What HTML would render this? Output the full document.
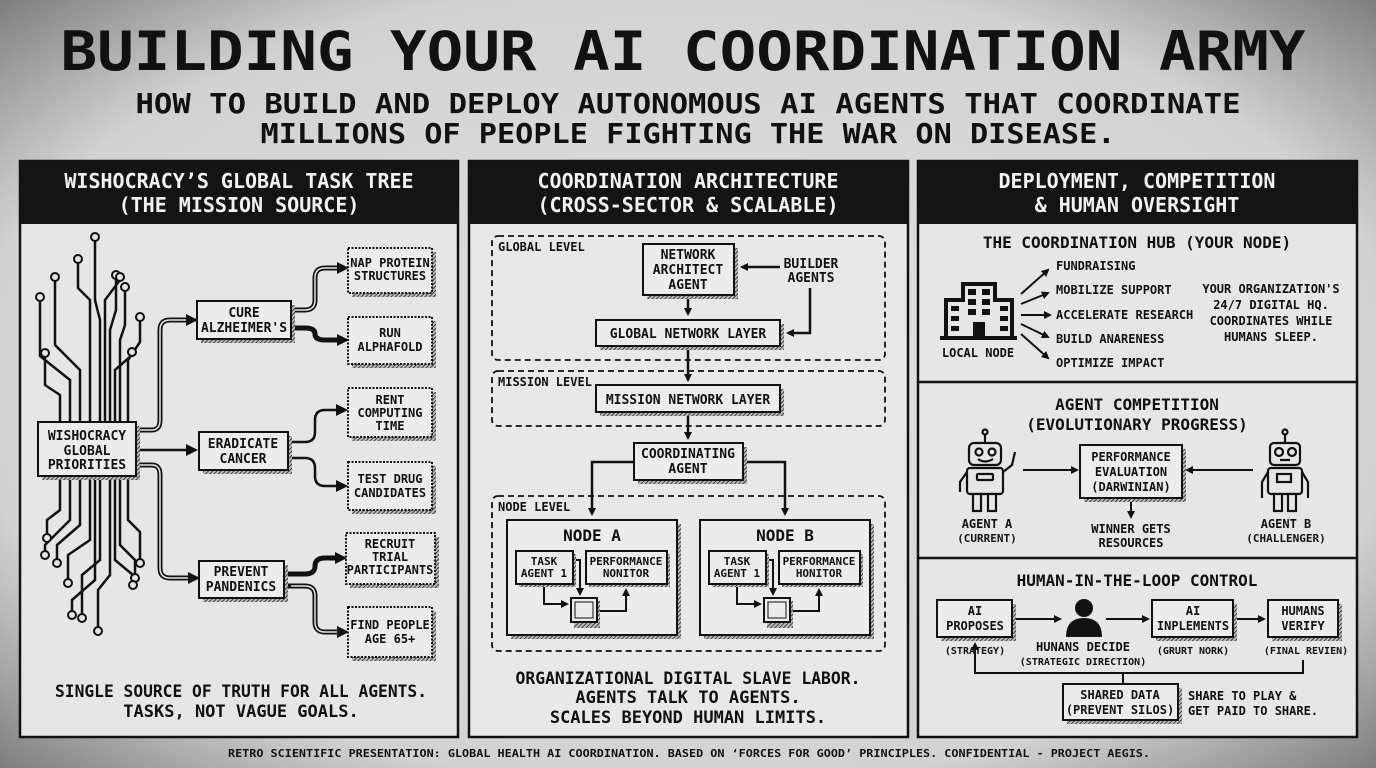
<!DOCTYPE html>
<html><head><meta charset="utf-8"><style>
html,body{margin:0;padding:0;background:#d0d0d0;}
svg{display:block;}
text{font-family:"DejaVu Sans Mono","Liberation Mono",monospace;font-weight:bold;fill:#111;}
.w{fill:#f2f2f2;}
.c{text-anchor:middle;}
</style></head><body>
<svg width="1376" height="768" viewBox="0 0 1376 768" xmlns="http://www.w3.org/2000/svg">
<defs>
<radialGradient id="bg" cx="50%" cy="50%" r="75%">
<stop offset="0" stop-color="#e2e2e2"/><stop offset="0.7" stop-color="#d2d2d2"/><stop offset="1" stop-color="#6a6a6a"/>
</radialGradient>
<pattern id="hat" width="3" height="3" patternUnits="userSpaceOnUse" patternTransform="rotate(45)">
<rect width="3" height="3" fill="#bbb"/><line x1="0" y1="0" x2="0" y2="3" stroke="#222" stroke-width="1.6"/>
</pattern>
<marker id="ar" markerWidth="8" markerHeight="8" refX="6" refY="4" orient="auto" markerUnits="userSpaceOnUse">
<path d="M0,0 L8,4 L0,8 Z" fill="#111"/>
</marker>
<marker id="ar2" markerWidth="12" markerHeight="12" refX="10" refY="6" orient="auto" markerUnits="userSpaceOnUse">
<path d="M0,0 L12,6 L0,12 Z" fill="#111"/>
</marker>
</defs>
<rect width="1376" height="768" fill="url(#bg)"/>

<!-- Title -->
<text x="683" y="70" class="c" font-size="54" textLength="1245" lengthAdjust="spacingAndGlyphs">BUILDING YOUR AI COORDINATION ARMY</text>
<text x="688" y="113" class="c" font-size="28" textLength="1105" lengthAdjust="spacingAndGlyphs">HOW TO BUILD AND DEPLOY AUTONOMOUS AI AGENTS THAT COORDINATE</text>
<text x="688" y="143" class="c" font-size="28" textLength="855" lengthAdjust="spacingAndGlyphs">MILLIONS OF PEOPLE FIGHTING THE WAR ON DISEASE.</text>

<!-- Panels -->
<g stroke="#111" stroke-width="2.5">
<rect x="20" y="161" width="438" height="576" fill="#e6e6e6"/>
<rect x="469" y="161" width="439" height="576" fill="#e8e8e8"/>
<rect x="918" y="161" width="439" height="576" fill="#e6e6e6"/>
</g>
<rect x="20" y="161" width="438" height="63" fill="#141414"/>
<rect x="469" y="161" width="439" height="63" fill="#141414"/>
<rect x="918" y="161" width="439" height="63" fill="#141414"/>
<g font-size="20" class="c">
<text class="w c" x="239" y="188">WISHOCRACY’S GLOBAL TASK TREE</text>
<text class="w c" x="239" y="212">(THE MISSION SOURCE)</text>
<text class="w c" x="688" y="188">COORDINATION ARCHITECTURE</text>
<text class="w c" x="688" y="212">(CROSS-SECTOR &amp; SCALABLE)</text>
<text class="w c" x="1137" y="188">DEPLOYMENT, COMPETITION</text>
<text class="w c" x="1137" y="212">&amp; HUMAN OVERSIGHT</text>
</g>

<!-- LEFT PANEL: circuit tree -->
<g stroke="#111" stroke-width="2.5" fill="none">
<path d="M70,422 V380 L40,356 V300"/><path d="M80,422 V370 L55,345 V280"/>
<path d="M90,422 V300 L78,288 V262"/><path d="M100,422 V320 L95,300 V240"/>
<path d="M110,422 V330 L116,310 V278"/><path d="M120,422 V340 L125,325 V290"/>
<path d="M128,422 V360 L140,342 V320"/><path d="M60,422 V395 L45,385 V356"/>
<path d="M105,422 V300 L120,280"/><path d="M115,422 V370 L132,355"/>
<path d="M70,476 V520 L45,545 V552"/><path d="M80,476 V525 L57,545 V560"/>
<path d="M90,476 V540 L68,555 V580"/><path d="M100,476 V560 L82,575 V615"/>
<path d="M110,476 V575 L98,590 V628"/><path d="M120,476 V545 L135,560 V575"/>
<path d="M128,476 V520 L140,532 V560"/><path d="M60,476 V510 L47,520 V535"/>
<path d="M115,476 V560 L133,575 V582"/><path d="M95,476 V580 L72,600 V612"/>
</g>
<g fill="#e6e6e6" stroke="#111" stroke-width="2">
<circle cx="40" cy="297" r="4"/><circle cx="55" cy="277" r="4"/><circle cx="78" cy="259" r="4"/><circle cx="95" cy="237" r="4"/>
<circle cx="116" cy="275" r="4"/><circle cx="125" cy="287" r="4"/><circle cx="140" cy="317" r="4"/><circle cx="45" cy="353" r="4"/>
<circle cx="120" cy="277" r="4"/><circle cx="132" cy="352" r="4"/>
<circle cx="45" cy="555" r="4"/><circle cx="57" cy="563" r="4"/><circle cx="68" cy="583" r="4"/><circle cx="82" cy="618" r="4"/>
<circle cx="98" cy="631" r="4"/><circle cx="135" cy="578" r="4"/><circle cx="140" cy="563" r="4"/><circle cx="47" cy="538" r="4"/>
<circle cx="133" cy="585" r="4"/><circle cx="72" cy="615" r="4"/>
</g>

<!-- Left connectors -->
<g stroke="#111" stroke-width="5" fill="none">
<path d="M136,430 H152 Q160,430 160,420 V330 Q160,320 170,320 H188"/>
<path d="M136,465 H152 Q160,465 160,475 V568 Q160,578 170,578 H190"/>
<path d="M291,310 H305 Q315,310 315,300 V278 Q315,268 325,268 H340"/>
<path d="M291,328 H305 Q315,328 315,334 Q315,340 325,340 H340"/>
<path d="M284,574 H305 Q315,574 315,566 Q315,558 325,558 H338"/>
<path d="M284,586 H305 Q315,586 315,596 V622 Q315,632 325,632 H340"/>
</g>
<g stroke="#e6e6e6" stroke-width="1.5" fill="none">
<path d="M136,430 H152 Q160,430 160,420 V330 Q160,320 170,320 H188"/>
<path d="M136,465 H152 Q160,465 160,475 V568 Q160,578 170,578 H190"/>
<path d="M291,310 H305 Q315,310 315,300 V278 Q315,268 325,268 H340"/>
<path d="M291,586 H305 Q315,586 315,596 V622 Q315,632 325,632 H340"/>
</g>
<g stroke="#111" stroke-width="2.5" fill="none" marker-end="url(#ar2)">
<path d="M186,320 H196"/><path d="M188,578 H198"/>
<path d="M338,268 H347"/><path d="M338,340 H347"/><path d="M336,558 H345"/><path d="M338,632 H347"/>
<path d="M136,450 H196"/>
<path d="M288,442 H305 Q315,442 315,432 V420 Q315,410 325,410 H346"/>
<path d="M288,458 H305 Q315,458 315,468 V476 Q315,486 325,486 H346"/>
</g>

<!-- left boxes solid -->
<g stroke="#111" stroke-width="2">
<rect x="42" y="426" width="98" height="54" fill="url(#hat)" stroke="none"/>
<rect x="38" y="422" width="98" height="54" fill="#ececec"/>
<rect x="201" y="305" width="94" height="38" fill="url(#hat)" stroke="none"/>
<rect x="197" y="301" width="94" height="38" fill="#ececec"/>
<rect x="203" y="436" width="89" height="38" fill="url(#hat)" stroke="none"/>
<rect x="199" y="432" width="89" height="38" fill="#ececec"/>
<rect x="203" y="565" width="85" height="37" fill="url(#hat)" stroke="none"/>
<rect x="199" y="561" width="85" height="37" fill="#ececec"/>
</g>
<g font-size="13" class="c">
<text x="87" y="440" class="c">WISHOCRACY</text><text x="87" y="455" class="c">GLOBAL</text><text x="87" y="469" class="c">PRIORITIES</text>
<text x="244" y="317" class="c">CURE</text><text x="244" y="332" class="c">ALZHEIMER'S</text>
<text x="243" y="448" class="c">ERADICATE</text><text x="243" y="463" class="c">CANCER</text>
<text x="241" y="576" class="c">PREVENT</text><text x="241" y="591" class="c">PANDENICS</text>
</g>
<!-- left dashed task boxes -->
<g stroke="#111" stroke-width="2" stroke-dasharray="2 1.5">
<rect x="352" y="252" width="84" height="45" fill="url(#hat)" stroke="none"/>
<rect x="348" y="248" width="84" height="45" fill="#ececec"/>
<rect x="352" y="321" width="84" height="47" fill="url(#hat)" stroke="none"/>
<rect x="348" y="317" width="84" height="47" fill="#ececec"/>
<rect x="352" y="392" width="84" height="49" fill="url(#hat)" stroke="none"/>
<rect x="348" y="388" width="84" height="49" fill="#ececec"/>
<rect x="352" y="466" width="84" height="48" fill="url(#hat)" stroke="none"/>
<rect x="348" y="462" width="84" height="48" fill="#ececec"/>
<rect x="350" y="537" width="89" height="51" fill="url(#hat)" stroke="none"/>
<rect x="346" y="533" width="89" height="51" fill="#ececec"/>
<rect x="352" y="611" width="84" height="50" fill="url(#hat)" stroke="none"/>
<rect x="348" y="607" width="84" height="50" fill="#ececec"/>
</g>
<g font-size="12">
<text x="390" y="267" class="c">NAP PROTEIN</text><text x="390" y="280" class="c">STRUCTURES</text>
<text x="390" y="337" class="c">RUN</text><text x="390" y="351" class="c">ALPHAFOLD</text>
<text x="390" y="404" class="c">RENT</text><text x="390" y="417" class="c">COMPUTING</text><text x="390" y="430" class="c">TIME</text>
<text x="390" y="483" class="c">TEST DRUG</text><text x="390" y="497" class="c">CANDIDATES</text>
<text x="390" y="548" class="c">RECRUIT</text><text x="390" y="561" class="c">TRIAL</text><text x="390" y="574" class="c">PARTICIPANTS</text>
<text x="390" y="629" class="c">FIND PEOPLE</text><text x="390" y="643" class="c">AGE 65+</text>
</g>
<g font-size="17">
<text x="241" y="697" class="c" textLength="372" lengthAdjust="spacingAndGlyphs">SINGLE SOURCE OF TRUTH FOR ALL AGENTS.</text>
<text x="241" y="717" class="c">TASKS, NOT VAGUE GOALS.</text>
</g>

<!-- MIDDLE PANEL -->
<g stroke="#111" stroke-width="1.8" fill="none" stroke-dasharray="6 4">
<rect x="492" y="236" width="393" height="124" rx="6"/>
<rect x="492" y="371" width="393" height="55" rx="6"/>
<rect x="492" y="496" width="393" height="155" rx="6"/>
</g>
<g font-size="12">
<text x="498" y="251">GLOBAL LEVEL</text>
<text x="498" y="386">MISSION LEVEL</text>
<text x="498" y="511">NODE LEVEL</text>
</g>
<!-- middle arrows -->
<g stroke="#111" stroke-width="2.5" fill="none" marker-end="url(#ar)">
<path d="M688,295 V314"/>
<path d="M780,267 H742"/>
<path d="M810,288 V333 H788"/>
<path d="M688,346 V380"/>
<path d="M688,412 V438"/>
<path d="M634,462 H592 V514"/>
<path d="M743,462 H785 V514"/>
</g>
<g stroke="#111" stroke-width="2">
<rect x="647" y="248" width="91" height="51" fill="url(#hat)" stroke="none"/>
<rect x="643" y="244" width="91" height="51" fill="#ececec"/>
<rect x="600" y="324" width="184" height="26" fill="url(#hat)" stroke="none"/>
<rect x="596" y="320" width="184" height="26" fill="#ececec"/>
<rect x="600" y="389" width="184" height="27" fill="url(#hat)" stroke="none"/>
<rect x="596" y="385" width="184" height="27" fill="#ececec"/>
<rect x="638" y="447" width="109" height="37" fill="url(#hat)" stroke="none"/>
<rect x="634" y="443" width="109" height="37" fill="#ececec"/>
<rect x="511" y="524" width="170" height="115" fill="url(#hat)" stroke="none"/>
<rect x="507" y="520" width="170" height="115" fill="#ececec"/>
<rect x="704" y="524" width="170" height="115" fill="url(#hat)" stroke="none"/>
<rect x="700" y="520" width="170" height="115" fill="#ececec"/>
</g>
<g font-size="13">
<text x="688" y="259" class="c">NETWORK</text><text x="688" y="274" class="c">ARCHITECT</text><text x="688" y="289" class="c">AGENT</text>
<text x="811" y="268" class="c">BUILDER</text><text x="811" y="282" class="c">AGENTS</text>
<text x="688" y="338" class="c">GLOBAL NETWORK LAYER</text>
<text x="688" y="404" class="c">MISSION NETWORK LAYER</text>
<text x="688" y="458" class="c">COORDINATING</text><text x="688" y="473" class="c">AGENT</text>
</g>
<g font-size="16">
<text x="592" y="541" class="c">NODE A</text>
<text x="785" y="541" class="c">NODE B</text>
</g>
<!-- node internals -->
<g id="nodeA">
<g stroke="#111" stroke-width="2" fill="none">
<path d="M544,584 V604 H567" marker-end="url(#ar)"/>
<path d="M573,560 H580 V594" marker-end="url(#ar)"/>
<path d="M598,611 H626 V590" marker-end="url(#ar)"/>
</g>
<g stroke="#111" stroke-width="2">
<rect x="519" y="554" width="57" height="33" fill="url(#hat)" stroke="none"/>
<rect x="516" y="551" width="57" height="33" fill="#ececec"/>
<rect x="589" y="554" width="81" height="33" fill="url(#hat)" stroke="none"/>
<rect x="586" y="551" width="81" height="33" fill="#ececec"/>
<rect x="574" y="601" width="26" height="27" fill="url(#hat)" stroke="none"/>
<rect x="571" y="598" width="26" height="24" fill="#ececec"/>
<rect x="575" y="602" width="18" height="16" fill="none" stroke-width="1"/>
</g>
<g font-size="11">
<text x="544" y="565" class="c">TASK</text><text x="544" y="577" class="c">AGENT 1</text>
<text x="626" y="565" class="c">PERFORMANCE</text><text x="626" y="577" class="c">NONITOR</text>
</g>
</g>
<g transform="translate(193,0)">
<g stroke="#111" stroke-width="2" fill="none">
<path d="M544,584 V604 H567" marker-end="url(#ar)"/>
<path d="M573,560 H580 V594" marker-end="url(#ar)"/>
<path d="M598,611 H626 V590" marker-end="url(#ar)"/>
</g>
<g stroke="#111" stroke-width="2">
<rect x="519" y="554" width="57" height="33" fill="url(#hat)" stroke="none"/>
<rect x="516" y="551" width="57" height="33" fill="#ececec"/>
<rect x="589" y="554" width="81" height="33" fill="url(#hat)" stroke="none"/>
<rect x="586" y="551" width="81" height="33" fill="#ececec"/>
<rect x="574" y="601" width="26" height="27" fill="url(#hat)" stroke="none"/>
<rect x="571" y="598" width="26" height="24" fill="#ececec"/>
<rect x="575" y="602" width="18" height="16" fill="none" stroke-width="1"/>
</g>
<g font-size="11">
<text x="544" y="565" class="c">TASK</text><text x="544" y="577" class="c">AGENT 1</text>
<text x="626" y="565" class="c">PERFORMANCE</text><text x="626" y="577" class="c">HONITOR</text>
</g>
</g>
<g font-size="17">
<text x="688" y="684" class="c" textLength="345" lengthAdjust="spacingAndGlyphs">ORGANIZATIONAL DIGITAL SLAVE LABOR.</text>
<text x="688" y="703" class="c">AGENTS TALK TO AGENTS.</text>
<text x="688" y="723" class="c">SCALES BEYOND HUMAN LIMITS.</text>
</g>

<!-- RIGHT PANEL -->
<g stroke="#111" stroke-width="2.5">
<line x1="918" y1="382" x2="1357" y2="382"/>
<line x1="918" y1="558" x2="1357" y2="558"/>
</g>
<g font-size="16">
<text x="1137" y="248" class="c">THE COORDINATION HUB (YOUR NODE)</text>
<text x="1137" y="410" class="c">AGENT COMPETITION</text>
<text x="1137" y="430" class="c">(EVOLUTIONARY PROGRESS)</text>
<text x="1137" y="586" class="c">HUMAN-IN-THE-LOOP CONTROL</text>
</g>
<!-- building -->
<g fill="#111">
<rect x="940" y="336" width="77" height="4"/>
<rect x="944" y="298" width="70" height="38"/>
<rect x="961" y="282" width="36" height="54"/>
</g>
<g fill="#e6e6e6">
<rect x="948" y="302" width="62" height="34"/>
<rect x="965" y="286" width="28" height="50"/>
</g>
<g fill="#111">
<rect x="968" y="289" width="8" height="6"/><rect x="982" y="289" width="8" height="6"/>
<rect x="968" y="299" width="8" height="6"/><rect x="982" y="299" width="8" height="6"/>
<rect x="968" y="309" width="8" height="6"/><rect x="982" y="309" width="8" height="6"/>
<rect x="951" y="306" width="8" height="5"/><rect x="951" y="316" width="8" height="5"/><rect x="951" y="326" width="8" height="5"/>
<rect x="1000" y="306" width="8" height="5"/><rect x="1000" y="316" width="8" height="5"/><rect x="1000" y="326" width="8" height="5"/>
<rect x="973" y="322" width="12" height="14"/>
</g>
<text x="978" y="357" font-size="12" class="c">LOCAL NODE</text>
<g stroke="#111" stroke-width="2" fill="none" marker-end="url(#ar)">
<path d="M1021,294 L1048,270"/><path d="M1021,304 L1048,293"/><path d="M1021,315 L1050,315"/>
<path d="M1021,324 L1048,337"/><path d="M1021,334 L1048,358"/>
</g>
<g font-size="12">
<text x="1056" y="270">FUNDRAISING</text>
<text x="1056" y="294">MOBILIZE SUPPORT</text>
<text x="1056" y="319">ACCELERATE RESEARCH</text>
<text x="1056" y="343">BUILD ANARENESS</text>
<text x="1056" y="367">OPTIMIZE IMPACT</text>
<text x="1271" y="293" class="c">YOUR ORGANIZATION'S</text>
<text x="1271" y="309" class="c">24/7 DIGITAL HQ.</text>
<text x="1271" y="325" class="c">COORDINATES WHILE</text>
<text x="1271" y="341" class="c">HUMANS SLEEP.</text>
</g>
<!-- robots -->
<g id="robotA" stroke="#111" stroke-width="2.2" fill="#e6e6e6">
<line x1="985" y1="434" x2="985" y2="443"/><circle cx="985" cy="432" r="2.5"/>
<rect x="969" y="443" width="32" height="22" rx="5"/>
<circle cx="979" cy="452" r="3.5"/><circle cx="992" cy="452" r="3.5"/>
<path d="M978,459 Q985,464 993,459" fill="none"/>
<rect x="967" y="468" width="36" height="26" rx="3"/>
<rect x="977" y="474" width="16" height="6" rx="1"/>
<path d="M967,472 L960,482 L960,492" fill="none"/><path d="M1003,472 L1012,465 L1015,452" fill="none"/>
<rect x="973" y="494" width="8" height="17"/><rect x="988" y="494" width="8" height="17"/>
</g>
<g stroke="#111" stroke-width="2.2" fill="#e6e6e6" transform="translate(300,0)">
<line x1="985" y1="434" x2="985" y2="443"/><circle cx="985" cy="432" r="2.5"/>
<rect x="970" y="443" width="30" height="22" rx="4"/>
<circle cx="979" cy="452" r="4"/><circle cx="992" cy="452" r="4"/>
<line x1="980" y1="460" x2="990" y2="460"/>
<rect x="968" y="468" width="34" height="26" rx="3"/>
<rect x="977" y="474" width="14" height="8"/>
<path d="M968,472 L962,482 L962,498" fill="none"/><path d="M1002,472 L1008,482 L1008,498" fill="none"/>
<rect x="974" y="494" width="8" height="17"/><rect x="988" y="494" width="8" height="17"/>
</g>
<g font-size="12">
<text x="987" y="528" class="c">AGENT A</text><text x="987" y="542" class="c" font-size="11">(CURRENT)</text>
<text x="1286" y="528" class="c">AGENT B</text><text x="1286" y="542" class="c" font-size="11">(CHALLENGER)</text>
<text x="1131" y="533" class="c">WINNER GETS</text><text x="1131" y="547" class="c">RESOURCES</text>
</g>
<g stroke="#111" stroke-width="2" fill="none" marker-end="url(#ar)">
<path d="M1023,470 H1077"/><path d="M1253,470 H1187"/><path d="M1131,498 V517"/>
</g>
<g stroke="#111" stroke-width="2">
<rect x="1084" y="449" width="102" height="53" fill="url(#hat)" stroke="none"/>
<rect x="1080" y="445" width="102" height="53" fill="#ececec"/>
</g>
<g font-size="12">
<text x="1131" y="461" class="c">PERFORMANCE</text><text x="1131" y="476" class="c">EVALUATION</text><text x="1131" y="491" class="c">(DARWINIAN)</text>
</g>
<!-- human loop -->
<g stroke="#111" stroke-width="2" fill="none" marker-end="url(#ar)">
<path d="M1016,619 H1060"/><path d="M1106,619 H1148"/><path d="M1237,619 H1264"/>
<path d="M1303,660 V673 H975 V644"/>
</g>
<line x1="1123" y1="673" x2="1123" y2="684" stroke="#111" stroke-width="2"/>
<g stroke="#111" stroke-width="2">
<rect x="941" y="604" width="75" height="37" fill="url(#hat)" stroke="none"/>
<rect x="937" y="600" width="75" height="37" fill="#ececec"/>
<rect x="1156" y="604" width="81" height="37" fill="url(#hat)" stroke="none"/>
<rect x="1152" y="600" width="81" height="37" fill="#ececec"/>
<rect x="1272" y="604" width="70" height="37" fill="url(#hat)" stroke="none"/>
<rect x="1268" y="600" width="70" height="37" fill="#ececec"/>
<rect x="1067" y="688" width="115" height="36" fill="url(#hat)" stroke="none"/>
<rect x="1063" y="684" width="115" height="36" fill="#ececec"/>
</g>
<circle cx="1084" cy="608" r="9" fill="#111"/>
<path d="M1066,637 Q1066,618 1084,618 Q1102,618 1102,637 Z" fill="#111"/>
<g font-size="12">
<text x="975" y="615" class="c">AI</text><text x="975" y="630" class="c">PROPOSES</text>
<text x="1193" y="615" class="c">AI</text><text x="1193" y="630" class="c">INPLEMENTS</text>
<text x="1303" y="615" class="c">HUMANS</text><text x="1303" y="630" class="c">VERIFY</text>
<text x="1083" y="651" class="c">HUNANS DECIDE</text>
<text x="1120" y="699" class="c">SHARED DATA</text><text x="1120" y="714" class="c">(PREVENT SILOS)</text>
<text x="1188" y="700">SHARE TO PLAY &amp;</text><text x="1188" y="715">GET PAID TO SHARE.</text>
</g>
<g font-size="10">
<text x="975" y="654" class="c">(STRATEGY)</text>
<text x="1083" y="665" class="c">(STRATEGIC DIRECTION)</text>
<text x="1193" y="654" class="c">(GRURT NORK)</text>
<text x="1306" y="654" class="c">(FINAL REVIEN)</text>
</g>

<!-- footer -->
<text x="689" y="757" class="c" font-size="10.5" textLength="922" lengthAdjust="spacingAndGlyphs">RETRO SCIENTIFIC PRESENTATION: GLOBAL HEALTH AI COORDINATION. BASED ON ‘FORCES FOR GOOD’ PRINCIPLES. CONFIDENTIAL - PROJECT AEGIS.</text>
</svg>
</body></html>
